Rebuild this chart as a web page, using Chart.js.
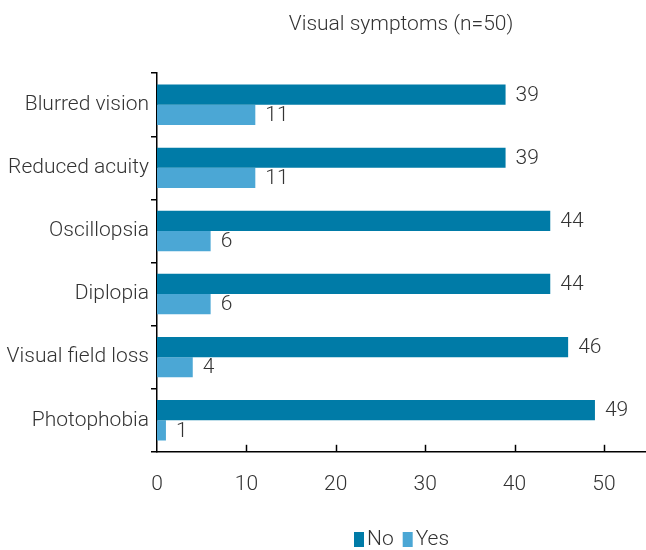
<!DOCTYPE html>
<html>
<head>
<meta charset="utf-8">
<script src="https://cdn.jsdelivr.net/npm/chart.js@4/dist/chart.umd.min.js"></script>
<style>
  html, body { margin: 0; padding: 0; background: #fff; }
  #wrap { width: 646px; height: 550px; }
</style>
</head>
<body>
<div id="wrap"><canvas id="chart" width="646" height="550"></canvas></div>
<script>
// Data
const symptoms = ['Blurred vision', 'Reduced acuity', 'Oscillopsia', 'Diplopia', 'Visual field loss', 'Photophobia'];
const noValues = [39, 39, 44, 44, 46, 49];
const yesValues = [11, 11, 6, 6, 4, 1];
const xTicks = [0, 10, 20, 30, 40, 50];

const textColor = '#333333';
const fontSize = 21;
Chart.defaults.font.family = 'Roboto';
Chart.defaults.font.weight = 300;
Chart.defaults.font.size = fontSize;
Chart.defaults.color = textColor;

// draws value labels next to bars
const valueLabels = {
  id: 'valueLabels',
  afterDatasetsDraw(chart) {
    const ctx = chart.ctx;
    ctx.save();
    ctx.font = '300 ' + fontSize + 'px Roboto';
    ctx.fillStyle = textColor;
    ctx.textBaseline = 'middle';
    ctx.textAlign = 'left';
    chart.data.datasets.forEach((ds, i) => {
      chart.getDatasetMeta(i).data.forEach((bar, j) => {
        ctx.fillText(ds.data[j], bar.x + 10, bar.y + 1);
      });
    });
    ctx.restore();
  }
};

// small tick marks pointing up from x axis
const xTickMarks = {
  id: 'xTickMarks',
  afterDraw(chart) {
    const ctx = chart.ctx;
    const x = chart.scales.x;
    const bottom = chart.chartArea.bottom;
    ctx.save();
    ctx.strokeStyle = '#000';
    ctx.lineWidth = 1.5;
    xTicks.forEach(v => {
      if (v === 0) return;
      const px = Math.round(x.getPixelForValue(v)) + 0.5;
      ctx.beginPath();
      ctx.moveTo(px, bottom);
      ctx.lineTo(px, bottom - 7);
      ctx.stroke();
    });
    ctx.restore();
  }
};

// compact legend at the bottom
const bottomLegend = {
  id: 'bottomLegend',
  afterDraw(chart) {
    const ctx = chart.ctx;
    ctx.save();
    ctx.font = '300 ' + fontSize + 'px Roboto';
    ctx.textBaseline = 'middle';
    ctx.textAlign = 'left';
    let x = 354;
    const y = 540;
    chart.data.datasets.forEach(ds => {
      ctx.fillStyle = ds.backgroundColor;
      ctx.fillRect(x, y - 8, 10, 15);
      ctx.fillStyle = textColor;
      ctx.fillText(ds.label, x + 13, y);
      x += 13 + ctx.measureText(ds.label).width + 9;
    });
    ctx.restore();
  }
};

new Chart(document.getElementById('chart'), {
  type: 'bar',
  data: {
    labels: symptoms,
    datasets: [
      { label: 'No', data: noValues, backgroundColor: '#007ba7', categoryPercentage: 0.64, barPercentage: 1 },
      { label: 'Yes', data: yesValues, backgroundColor: '#4ba7d5', categoryPercentage: 0.64, barPercentage: 1 }
    ]
  },
  options: {
    indexAxis: 'y',
    responsive: false,
    animation: false,
    layout: { padding: { left: 0, right: 1, top: 0, bottom: 33 } },
    scales: {
      x: {
        min: 0,
        max: 54.6,
        afterBuildTicks: axis => { axis.ticks = xTicks.map(v => ({ value: v })); },
        grid: { display: false, drawTicks: false },
        border: { display: true, color: '#000', width: 1.5 },
        ticks: { padding: 20, color: textColor, font: { size: fontSize, weight: 300 } }
      },
      y: {
        afterFit: s => { s.width = 157; },
        grid: { drawOnChartArea: false, drawTicks: true, tickLength: 6, color: '#000', lineWidth: 1.5, offset: true },
        border: { display: true, color: '#000', width: 1.5 },
        ticks: { padding: 2, color: textColor, font: { size: fontSize, weight: 300 } }
      }
    },
    plugins: {
      title: {
        display: true,
        fullSize: false,
        text: 'Visual symptoms (n=50)',
        color: textColor,
        font: { size: fontSize, weight: 300 },
        padding: { top: 12, bottom: 36 },
        align: 'center'
      },
      legend: { display: false },
      tooltip: { enabled: false }
    }
  },
  plugins: [valueLabels, xTickMarks, bottomLegend]
});
</script>
</body>
</html>
